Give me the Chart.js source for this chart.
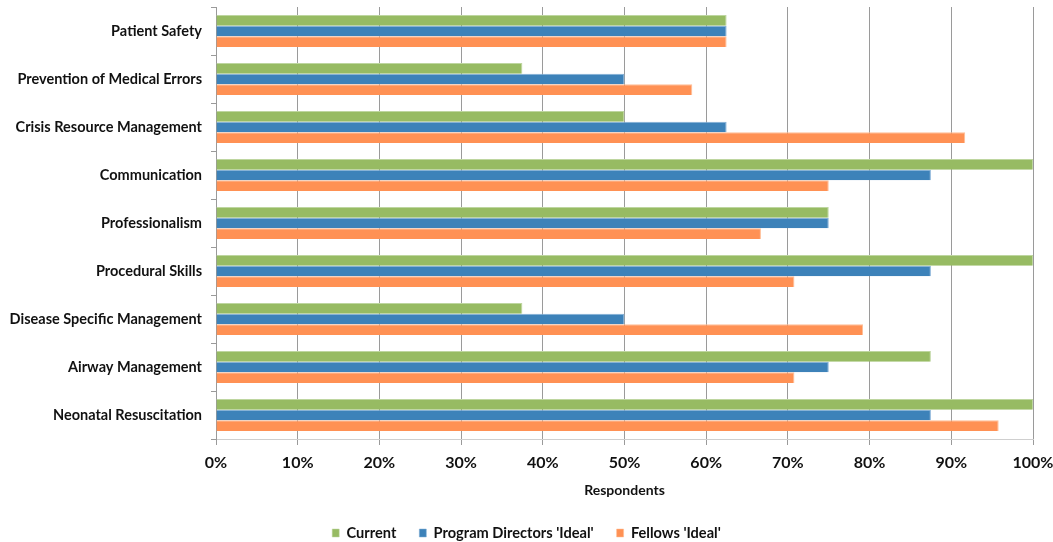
<!DOCTYPE html>
<html>
<head>
<meta charset="utf-8">
<script src="https://cdn.jsdelivr.net/npm/chart.js@4.4.1/dist/chart.umd.min.js"></script>
<style>
  html, body { margin: 0; padding: 0; background: #fff; }
  #wrap { width: 1053px; height: 542px; }
</style>
</head>
<body>
<div id="wrap"><canvas id="skillsChart"></canvas></div>
<script>
// *****Chart data***** //
const categories = ['Patient Safety', 'Prevention of Medical Errors', 'Crisis Resource Management', 'Communication',
    'Professionalism', 'Procedural Skills', 'Disease Specific Management', 'Airway Management', 'Neonatal Resuscitation'];
const current = [62.5, 37.5, 50, 100, 75, 100, 37.5, 87.5, 100];
const directorsIdeal = [62.5, 50, 62.5, 87.5, 75, 87.5, 50, 75, 87.5];
const fellowsIdeal = [62.5, 58.3, 91.7, 75, 66.7, 70.8, 79.2, 70.8, 95.8];
const seriesNames = ['Current', "Program Directors 'Ideal'", "Fellows 'Ideal'"];
const xTicks = [0, 10, 20, 30, 40, 50, 60, 70, 80, 90, 100];

const fontFamily = 'Lato, "Open Sans", sans-serif';

// *****Skills Chart***** //
const skills = document.getElementById('skillsChart');
if (skills) {
    const skillsChart = new Chart(skills, {
        type: 'bar',
        data: {
            labels: categories,
            datasets: [{
                label: seriesNames[0],
                data: current,
                backgroundColor: 'rgb(151,187,99)',
                borderColor: 'rgb(190,214,160)',
                borderWidth: { top: 1, bottom: 0, left: 0, right: 1 },
            }, {
                label: seriesNames[1],
                data: directorsIdeal,
                backgroundColor: 'rgb(61,130,185)',
                borderColor: 'rgb(130,175,215)',
                borderWidth: { top: 1, bottom: 0, left: 0, right: 1 },
            }, {
                label: seriesNames[2],
                data: fellowsIdeal,
                backgroundColor: 'rgb(255,145,84)',
                borderColor: 'rgb(255,190,150)',
                borderWidth: { top: 1, bottom: 0, left: 0, right: 1 },
            }]
        },
        options: {
            indexAxis: 'y',
            responsive: true,
            maintainAspectRatio: false,
            animation: false,
            barPercentage: 1,
            categoryPercentage: 0.67,
            layout: { padding: { top: 7, right: 0, left: 0, bottom: -8.3 } },
            plugins: {
                tooltip: { enabled: false },
                legend: {
                    position: 'bottom',
                    labels: {
                        boxWidth: 7,
                        boxHeight: 8,
                        padding: 23,
                        color: '#111',
                        font: { family: fontFamily, size: 14.6, weight: 'bold' }
                    }
                }
            },
            scales: {
                x: {
                    min: 0,
                    max: 100,
                    afterBuildTicks: (scale) => { scale.ticks = xTicks.map(v => ({ value: v })); },
                    afterFit: (scale) => { scale.paddingLeft = 0; scale.paddingRight = 20; scale.height = 63.7; },
                    grid: { color: '#9a9a9a', tickLength: 6, lineWidth: 1 },
                    border: { color: '#cfcfcf' },
                    ticks: {
                        padding: 8,
                        color: '#111',
                        font: { family: fontFamily, size: 16, weight: 'bold' },
                        callback: (v) => v + '%'
                    },
                    title: {
                        display: true,
                        text: 'Respondents',
                        color: '#111',
                        padding: { top: 9, bottom: 4.3 },
                        font: { family: fontFamily, size: 14, weight: 'bold' }
                    }
                },
                y: {
                    afterFit: (scale) => { scale.width = 216; scale.paddingTop = 0; scale.paddingBottom = 0; },
                    grid: { drawOnChartArea: false, color: '#9a9a9a', tickLength: 5 },
                    border: { color: '#9a9a9a' },
                    ticks: {
                        padding: 9,
                        color: '#111',
                        font: { family: fontFamily, size: 14.5, weight: 'bold' }
                    }
                }
            }
        }
    });
}
</script>
</body>
</html>
